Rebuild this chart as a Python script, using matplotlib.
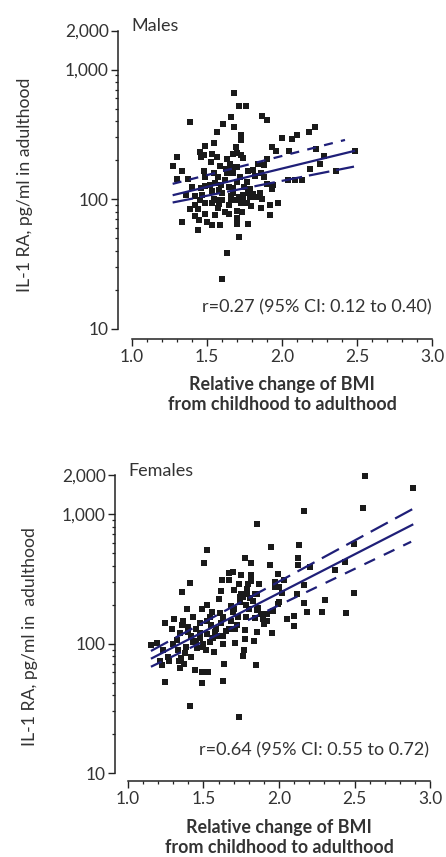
import matplotlib
matplotlib.use("Agg")
import matplotlib.pyplot as plt
from matplotlib.ticker import FixedLocator, NullFormatter

plt.rcParams['font.family'] = ['Lato', 'DejaVu Sans']
plt.rcParams['lines.scale_dashes'] = False

# ---------------- data: males ----------------
male_x = [1.68, 1.713, 1.762, 1.387, 1.658, 1.867, 1.90, 1.604, 1.68, 1.569,
          2.218, 2.178, 1.724, 1.724, 2.098, 2.064, 2.002, 1.547, 1.484, 1.693,
          1.933, 1.962, 2.229, 2.049, 1.453, 1.48, 1.536, 1.569, 1.698, 1.676,
          1.462, 1.724, 1.742, 1.298, 2.282, 1.633, 1.529, 1.902, 1.276, 1.587,
          1.651, 1.662, 1.702, 2.253, 1.842, 1.878, 1.336, 1.48, 1.544, 1.633,
          1.676, 1.776, 1.809, 2.489, 2.36, 2.189, 1.298, 1.371, 1.489, 1.576,
          1.72, 1.822, 1.764, 1.882, 2.038, 2.089, 2.131, 1.942, 1.551, 1.596,
          1.647, 1.676, 1.398, 1.46, 1.484, 1.744, 1.36, 1.422, 1.469, 1.536,
          1.60, 1.676, 1.773, 1.804, 1.853, 1.898, 1.933, 1.922, 1.976, 1.869,
          1.453, 1.564, 1.598, 1.658, 1.689, 1.711, 1.742, 1.787, 1.824, 1.484,
          1.536, 1.582, 1.649, 1.724, 1.764, 1.796, 1.422, 1.576, 1.387, 1.442,
          1.858, 1.622, 1.649, 1.698, 1.422, 1.489, 1.553, 1.731, 1.92, 1.444,
          1.502, 1.702, 1.336, 1.533, 1.589, 1.702, 1.773, 1.44, 1.711, 1.636,
          1.60, 1.62, 1.70, 1.58, 1.66, 1.74, 1.52, 1.55, 1.79, 1.63, 1.86]
male_y = [662, 522, 526, 393, 427, 437, 407, 377, 360, 331,
          358, 329, 314, 286, 310, 289, 298, 269, 255, 252,
          252, 236, 243, 233, 232, 217, 221, 212, 225, 222,
          210, 217, 206, 210, 216, 204, 194, 202, 180, 181,
          187, 178, 178, 186, 186, 183, 165, 166, 160, 160,
          158, 165, 167, 233, 164, 171, 144, 144, 149, 149,
          149, 151, 136, 149, 140, 140, 140, 128, 134, 128,
          124, 122, 124, 121, 127, 124, 107, 106, 107, 116,
          111, 111, 112, 109, 111, 130, 119, 90, 94, 100,
          99, 99, 98, 98, 99, 103, 107, 104, 104, 94,
          93, 91, 90, 94, 94, 88, 90, 85, 84, 84,
          85, 79, 77, 81, 74, 77, 75, 79, 75, 69,
          67, 71, 66, 63, 63, 64, 64, 58, 51, 38,
          24, 140, 135, 118, 105, 97, 128, 100, 120, 170, 160]

# regression line and 95% CI lines (endpoints)
male_fit_x = [1.271, 2.487]
male_fit_y = [107, 236]
male_hi_x = [1.271, 2.42]
male_hi_y = [131, 286]
male_lo_x = [1.271, 2.48]
male_lo_y = [94, 178]

# ---------------- data: females ----------------
female_x = [2.572, 2.885, 2.556, 2.166, 1.852, 2.132, 1.945, 2.499, 1.521, 1.777,
            2.124, 2.439, 1.501, 1.817, 1.943, 2.124, 2.205, 2.373, 1.698, 1.671,
            1.751, 1.812, 1.993, 1.625, 1.667, 1.812, 1.411, 1.976, 2.033, 1.737,
            1.797, 1.87, 2.163, 1.976, 2.002, 1.355, 1.618, 1.751, 1.786, 1.852,
            2.121, 2.02, 2.499, 1.60, 1.74, 1.808, 2.163, 2.305, 1.492, 1.393,
            1.521, 1.684, 1.99, 1.854, 1.556, 1.611, 1.698, 1.92, 2.188, 2.283,
            2.442, 1.305, 1.428, 1.362, 1.543, 1.726, 1.783, 1.841, 1.896, 2.05,
            2.102, 1.243, 1.294, 1.477, 1.614, 1.671, 1.709, 1.775, 1.852, 1.90,
            1.955, 1.344, 1.40, 1.477, 1.521, 1.576, 1.627, 1.775, 1.835, 1.706,
            1.322, 1.19, 1.15, 1.428, 1.499, 1.543, 1.631, 1.384, 1.459, 1.514,
            1.569, 1.234, 1.771, 1.267, 1.353, 1.419, 1.21, 1.272, 1.371, 1.227,
            1.344, 1.636, 1.845, 1.76, 1.442, 1.488, 1.532, 1.243, 1.492, 1.627,
            1.411, 1.733,
            1.36, 1.40, 1.45, 1.48, 1.52, 1.55, 1.58, 1.60, 1.63, 1.65,
            1.68, 1.70, 1.72, 1.74, 1.76, 1.78, 1.80, 1.83, 1.86, 1.88,
            1.92, 1.96, 2.00, 1.45, 1.50, 1.56, 1.30, 1.33, 1.38, 1.42,
            1.70, 1.79, 1.84, 2.10, 1.34]
female_y = [1986, 1585, 1126, 1061, 842, 580, 563, 587, 525, 463,
            458, 431, 419, 419, 404, 404, 393, 372, 361, 349,
            337, 337, 343, 312, 312, 304, 295, 301, 308, 288,
            290, 290, 285, 275, 275, 252, 255, 244, 242, 244,
            244, 246, 247, 220, 228, 224, 206, 217, 185, 185,
            199, 195, 201, 181, 175, 173, 175, 171, 175, 177,
            173, 155, 162, 149, 162, 161, 162, 157, 155, 155,
            138, 144, 130, 144, 144, 131, 131, 127, 124, 141,
            122, 120, 124, 120, 119, 124, 115, 109, 105, 102,
            107, 102, 97, 104, 100, 104, 100, 95, 92, 89,
            87, 89, 89, 79, 78, 79, 73, 74, 70, 68,
            65, 70, 68, 81, 63, 60, 60, 51, 50, 52,
            33, 27,
            140, 135, 130, 110, 150, 140, 130, 115, 160, 125,
            150, 185, 140, 210, 230, 200, 185, 215, 190, 170,
            150, 180, 210, 105, 95, 110, 100, 90, 85, 115,
            260, 265, 240, 163, 73]

female_fit_x = [1.152, 2.889]
female_fit_y = [76.6, 836]
female_hi_x = [1.152, 2.885]
female_hi_y = [87.9, 1097]
female_lo_x = [1.152, 2.875]
female_lo_y = [66.4, 613]

# ---------------- labels ----------------
yticks = [10, 100, 1000, 2000]
ytick_labels = ["10", "100", "1,000", "2,000"]
yminor = [20, 30, 40, 50, 60, 70, 80, 90, 200, 300, 400, 500, 600, 700, 800, 900]
xticks = [1.0, 1.5, 2.0, 2.5, 3.0]
xtick_labels = ["1.0", "1.5", "2.0", "2.5", "3.0"]
xminor = [1.1, 1.2, 1.3, 1.4, 1.6, 1.7, 1.8, 1.9, 2.1, 2.2, 2.3, 2.4, 2.6, 2.7, 2.8, 2.9]

W, H = 446, 857
fig = plt.figure(figsize=(W / 100, H / 100), dpi=100)

LINE_C = "#1f1f78"
PT_C = "#1a1a1a"
TXT_C = "#333333"


def px_rect(left, right, top, bottom):
    return [left / W, (H - bottom) / H, (right - left) / W, (bottom - top) / H]


def make_panel(rect, xlim, ylim, xs, ys, fit, hi, lo, hi_dash, lo_dash,
               title, rtext, rpos, title_pos):
    ax = fig.add_axes(rect)
    ax.set_yscale('log')
    ax.set_xlim(*xlim)
    ax.set_ylim(*ylim)
    for s in ['top', 'right']:
        ax.spines[s].set_visible(False)
    for s in ['left', 'bottom']:
        ax.spines[s].set_linewidth(1.1)
        ax.spines[s].set_color('#222222')
    ax.spines['left'].set_bounds(10, 2000)
    ax.spines['bottom'].set_bounds(1.0, 3.0)
    ax.yaxis.set_major_locator(FixedLocator(yticks))
    ax.set_yticklabels(ytick_labels)
    ax.yaxis.set_minor_locator(FixedLocator(yminor))
    ax.yaxis.set_minor_formatter(NullFormatter())
    ax.set_xticks(xticks)
    ax.set_xticklabels(xtick_labels)
    ax.xaxis.set_minor_locator(FixedLocator(xminor))
    ax.tick_params(which='major', length=5, width=1.0, color='#222222',
                   labelsize=12.5, labelcolor=TXT_C)
    ax.tick_params(which='minor', length=2.5, width=0.9, color='#222222')
    ax.tick_params(axis='y', which='major', pad=1.5)
    ax.tick_params(axis='x', which='major', pad=2.5)
    ax.patch.set_alpha(0)

    ax.scatter(xs, ys, marker='s', s=25, color=PT_C, linewidths=0, zorder=2)
    ax.plot(fit[0], fit[1], color=LINE_C, lw=1.6, zorder=3, solid_capstyle='butt')
    l1, = ax.plot(hi[0], hi[1], color=LINE_C, lw=1.6, zorder=3)
    l1.set_dashes(hi_dash)
    l2, = ax.plot(lo[0], lo[1], color=LINE_C, lw=1.6, zorder=3)
    l2.set_dashes(lo_dash)
    l1.set_dash_capstyle('butt')
    l2.set_dash_capstyle('butt')

    ax.text(title_pos[0], title_pos[1], title, fontsize=13, color=TXT_C,
            ha='left', va='baseline')
    ax.text(rpos[0], rpos[1], rtext, fontsize=13, color=TXT_C,
            ha='right', va='baseline')
    return ax


# top panel: y spine at px 118, x: 1.0 -> px 132, 3.0 -> px 432; y: 100 -> px 199, decade 129.5
make_panel(px_rect(118, 440, 25, 339), (0.9067, 3.0533), (8.30, 2208),
           male_x, male_y,
           (male_fit_x, male_fit_y), (male_hi_x, male_hi_y), (male_lo_x, male_lo_y),
           (6.5, 6.0), (15.0, 5.0),
           "Males", "r=0.27 (95% CI: 0.12 to 0.40)", (3.0, 13.4), (0.993, 1982))

# bottom panel
make_panel(px_rect(115, 440, 465, 781), (0.914, 3.066), (8.71, 2399),
           female_x, female_y,
           (female_fit_x, female_fit_y), (female_hi_x, female_hi_y), (female_lo_x, female_lo_y),
           (14.0, 6.0), (8.5, 7.0),
           "Females", "r=0.64 (95% CI: 0.55 to 0.72)", (2.993, 13.8), (1.0, 1982))

# axis labels
XL = 12.9
fig.text(282 / W, (H - 390) / H, "Relative change of BMI", fontsize=XL, fontweight='bold',
         color=TXT_C, ha='center', va='baseline')
fig.text(282 / W, (H - 409.5) / H, "from childhood to adulthood", fontsize=XL, fontweight='bold',
         color=TXT_C, ha='center', va='baseline')
fig.text(279 / W, (H - 833) / H, "Relative change of BMI", fontsize=XL, fontweight='bold',
         color=TXT_C, ha='center', va='baseline')
fig.text(279 / W, (H - 853) / H, "from childhood to adulthood", fontsize=XL, fontweight='bold',
         color=TXT_C, ha='center', va='baseline')

fig.text(25 / W, (H - 185) / H, "IL-1 RA, pg/ml in adulthood", fontsize=12.7, color=TXT_C,
         rotation=90, ha='center', va='center')
fig.text(30 / W, (H - 637) / H, "IL-1 RA, pg/ml in  adulthood", fontsize=12.7, color=TXT_C,
         rotation=90, ha='center', va='center')

fig.savefig("out.png", dpi=100, facecolor='white')
